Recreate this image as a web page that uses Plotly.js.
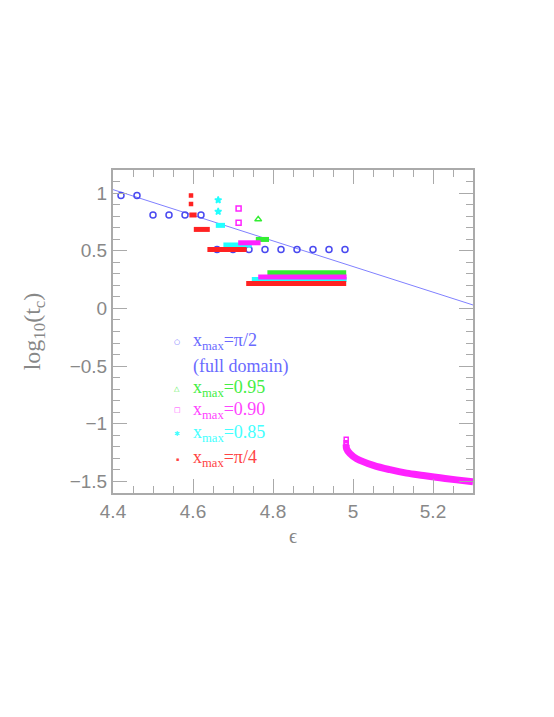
<!DOCTYPE html>
<html>
<head>
<meta charset="utf-8">
<script src="https://cdn.plot.ly/plotly-3.0.1.min.js"></script>
<style>
  body { margin: 0; background: #fff; }
  #chart { width: 554px; height: 717px; }
</style>
</head>
<body>
<div id="chart"></div>
<script>
'use strict'

// full domain (x_max = pi/2)
var blueX = [4.42, 4.46, 4.50, 4.54, 4.58, 4.62, 4.66, 4.70, 4.74, 4.78, 4.82, 4.86, 4.90, 4.94, 4.98];
var blueY = [0.98, 0.98, 0.81, 0.81, 0.81, 0.81, 0.51, 0.51, 0.51, 0.51, 0.51, 0.51, 0.51, 0.51, 0.51];
var fitX = [4.4, 5.3];
var fitY = [1.03, 0.03];

// isolated points
var redPtX = [4.595, 4.595];
var redPtY = [0.98, 0.905];
var cyanPtX = [4.663, 4.663];
var cyanPtY = [0.94, 0.84];
var magPtX = [4.714, 4.714];
var magPtY = [0.867, 0.742];
var greenPtX = [4.763];
var greenPtY = [0.772];

// horizontal runs: start, end, level
var redX0 = [4.591, 4.602, 4.636, 4.733];
var redX1 = [4.609, 4.642, 4.734, 4.983];
var redY  = [0.81, 0.685, 0.51, 0.217];
var cyanX0 = [4.657, 4.676, 4.747];
var cyanX1 = [4.680, 4.747, 4.984];
var cyanY  = [0.72, 0.55, 0.25];
var magX0 = [4.713, 4.763];
var magX1 = [4.769, 4.984];
var magY  = [0.569, 0.273];
var greenX0 = [4.757, 4.786];
var greenX1 = [4.790, 4.983];
var greenY  = [0.598, 0.309];

// branch beyond eps ~ 4.98
var curveX = [4.983, 4.984, 4.9925, 5.009, 5.051, 5.0925, 5.134, 5.176, 5.2175, 5.259, 5.3];
var curveY = [-1.18, -1.216, -1.259, -1.303, -1.36, -1.398, -1.428, -1.448, -1.468, -1.486, -1.502];
var curveTopX = [4.983, 4.983, 4.983];
var curveTopY = [-1.135, -1.164, -1.181];

var BLUE = '#4a4af0', GREEN = '#33ee33', MAG = '#ff22ff', CYAN = '#22ffff', RED = '#ff2222';

function runs(x0, x1, y, color){
    var xs = [], ys = [];
    for (var i = 0; i < x0.length; i++) {
        xs.push(x0[i], x1[i], null);
        ys.push(y[i], y[i], null);
    }
    return { x: xs, y: ys, mode: 'lines', line: { color: color, width: 5 }, hoverinfo: 'skip' };
}

function pts(x, y, color, symbol, size){
    return { x: x, y: y, mode: 'markers', marker: { color: color, symbol: symbol, size: size, line: { color: color, width: 1.5 } } };
}

var data = [
    { x: fitX, y: fitY, mode: 'lines', line: { color: '#8080ff', width: 1 } },
    pts(blueX, blueY, BLUE, 'circle-open', 6),
    runs(greenX0, greenX1, greenY, GREEN),
    runs(cyanX0, cyanX1, cyanY, CYAN),
    runs(magX0, magX1, magY, MAG),
    runs(redX0, redX1, redY, RED),
    pts(redPtX, redPtY, RED, 'square', 3),
    pts(cyanPtX, cyanPtY, CYAN, 'star', 5),
    pts(magPtX, magPtY, MAG, 'square-open', 5),
    pts(greenPtX, greenPtY, GREEN, 'triangle-up-open', 6),
    { x: curveX, y: curveY, mode: 'lines', line: { color: MAG, width: 7, shape: 'spline' } },
    pts(curveTopX, curveTopY, MAG, 'square-open', 4)
];

// legend rows drawn as annotations
var legText = ['x<sub>max</sub>=π/2', '(full domain)', 'x<sub>max</sub>=0.95', 'x<sub>max</sub>=0.90', 'x<sub>max</sub>=0.85', 'x<sub>max</sub>=π/4'];
var legY = [-0.29, -0.50, -0.695, -0.883, -1.086, -1.303];
var legColor = ['#6a6aff', '#6a6aff', '#44ee44', '#ff44ff', '#44ffff', '#ff4444'];
var legSym = ['○', '', '△', '□', '✱', '▪'];
var legSymSize = [7, 0, 7, 7, 7, 5];

var annotations = [];
for (var i = 0; i < legText.length; i++) {
    annotations.push({
        x: 4.594, y: legY[i], xref: 'x', yref: 'y', text: legText[i], showarrow: false,
        xanchor: 'left', yanchor: 'middle',
        font: { family: 'Liberation Serif', size: 18, color: legColor[i] }
    });
    if (legSym[i]) {
        annotations.push({
            x: 4.561, y: legY[i], xref: 'x', yref: 'y', text: legSym[i], showarrow: false,
            xanchor: 'center', yanchor: 'middle',
            font: { family: 'DejaVu Sans', size: legSymSize[i], color: legColor[i] }
        });
    }
}

var axisCommon = {
    showgrid: false,
    zeroline: false,
    showline: true,
    linecolor: '#aaaaaa',
    linewidth: 2,
    mirror: 'allticks',
    ticks: 'inside',
    ticklen: 14,
    tickwidth: 1,
    tickcolor: '#aaaaaa',
    tickfont: { family: 'Liberation Sans', size: 19, color: '#888888' }
};

var layout = {
    width: 554,
    height: 717,
    margin: { l: 113, r: 81, t: 170, b: 224, pad: 0 },
    paper_bgcolor: '#ffffff',
    plot_bgcolor: '#ffffff',
    showlegend: false,
    xaxis: Object.assign({}, axisCommon, {
        range: [4.4, 5.3],
        tick0: 4.4,
        dtick: 0.2,
        minor: { dtick: 0.05, ticks: 'inside', ticklen: 7, tickcolor: '#aaaaaa', tickwidth: 1 },
        title: { text: 'ϵ', font: { family: 'Liberation Serif', size: 20, color: '#888888' }, standoff: 8 }
    }),
    yaxis: Object.assign({}, axisCommon, {
        range: [-1.6, 1.2],
        tick0: 0,
        dtick: 0.5,
        minor: { dtick: 0.1, ticks: 'inside', ticklen: 7, tickcolor: '#aaaaaa', tickwidth: 1 },
        title: { text: 'log<sub>10</sub>(t<sub>c</sub>)', font: { family: 'Liberation Serif', size: 24, color: '#888888' }, standoff: 22 }
    }),
    annotations: annotations
};

Plotly.newPlot('chart', data, layout, { displayModeBar: false, staticPlot: true });
</script>
</body>
</html>
